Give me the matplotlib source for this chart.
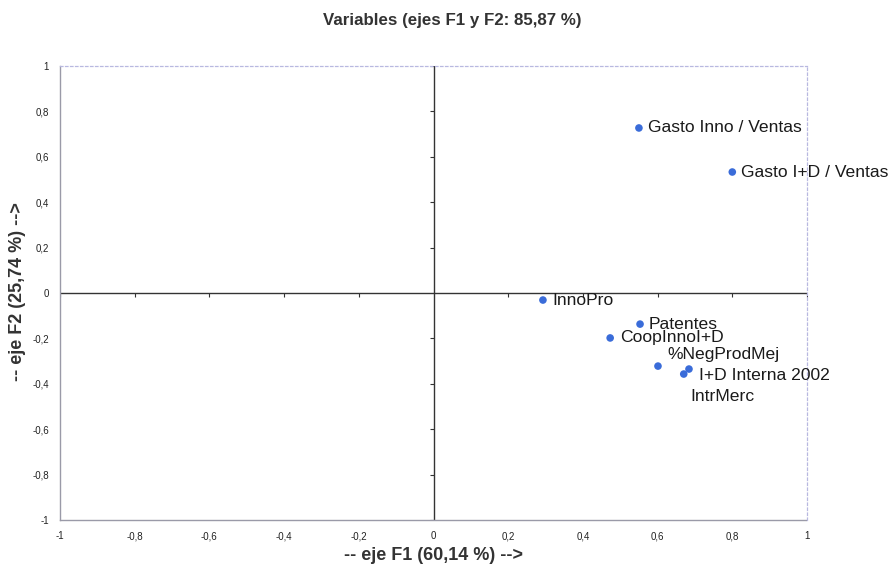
import matplotlib
matplotlib.use("Agg")
import matplotlib.pyplot as plt
import numpy as np

plt.rcParams['font.family'] = ['Liberation Sans', 'DejaVu Sans']

labels = ["Gasto Inno / Ventas", "Gasto I+D / Ventas", "InnoPro", "Patentes",
          "CoopInnoI+D", "%NegProdMej", "I+D Interna 2002", "IntrMerc"]
f1 = [0.550, 0.800, 0.293, 0.553, 0.473, 0.601, 0.684, 0.670]
f2 = [0.727, 0.533, -0.031, -0.137, -0.198, -0.322, -0.335, -0.357]
# label offsets in points
offsets = [(6.5, 0), (6.5, 0), (7, 0), (6.5, 0), (7, 0), (7, 8.5), (7, -5), (4.5, -16)]

ticks = [-1, -0.8, -0.6, -0.4, -0.2, 0, 0.2, 0.4, 0.6, 0.8, 1]
tick_labels = ["-1", "-0,8", "-0,6", "-0,4", "-0,2", "0", "0,2", "0,4", "0,6", "0,8", "1"]

W, H = 896, 567
fig = plt.figure(figsize=(W / 100, H / 100), dpi=100)
ax = fig.add_axes([60 / W, 1 - 520 / H, (807 - 60) / W, (520 - 66) / H])
ax.set_xlim(-1, 1)
ax.set_ylim(-1, 1)

for side in ['left', 'bottom']:
    ax.spines[side].set_linestyle((0, (1, 1)))
    ax.spines[side].set_color('#9a9aa8')
    ax.spines[side].set_linewidth(1.0)
for side in ['top', 'right']:
    ax.spines[side].set_linestyle((0, (2, 2)))
    ax.spines[side].set_color('#b8b8e0')
    ax.spines[side].set_linewidth(0.9)

ax.set_xticks(ticks)
ax.set_xticklabels(tick_labels)
ax.set_yticks(ticks)
ax.set_yticklabels(tick_labels)
ax.tick_params(length=0, labelsize=7, colors='#222222', pad=8)

ax.axhline(0, color='#333333', lw=1.0, zorder=2)
ax.axvline(0, color='#333333', lw=1.0, zorder=2)
# small ticks on the zero axes
tk = [t for t in ticks if t not in (0,)]
ax.plot(tk, [0] * len(tk), linestyle='none', marker=3, markersize=3, color='#333333', mew=0.8)
ax.plot([0] * len(tk), tk, linestyle='none', marker=0, markersize=3, color='#333333', mew=0.8)

ax.scatter(f1, f2, s=30, color='#3a6cd9', zorder=3, edgecolors='none')
for lab, x, y, off in zip(labels, f1, f2, offsets):
    ax.annotate(lab, (x, y), xytext=off, textcoords='offset points',
                ha='left', va='center', fontsize=12.6, color='#1a1a1a', clip_on=False)

fig.text(452 / W, 1 - 20 / H, "Variables (ejes F1 y F2: 85,87 %)", ha='center', va='center',
         fontsize=12.2, fontweight='bold', color='#333333')
fig.text(433 / W, 1 - 555 / H, "-- eje F1 (60,14 %) -->", ha='center', va='center',
         fontsize=13, fontweight='bold', color='#333333')
fig.text(18 / W, 1 - 292 / H, "-- eje F2 (25,74 %) -->", ha='center', va='center',
         fontsize=13, fontweight='bold', color='#333333', rotation=90)

fig.savefig("out.png", dpi=100)
